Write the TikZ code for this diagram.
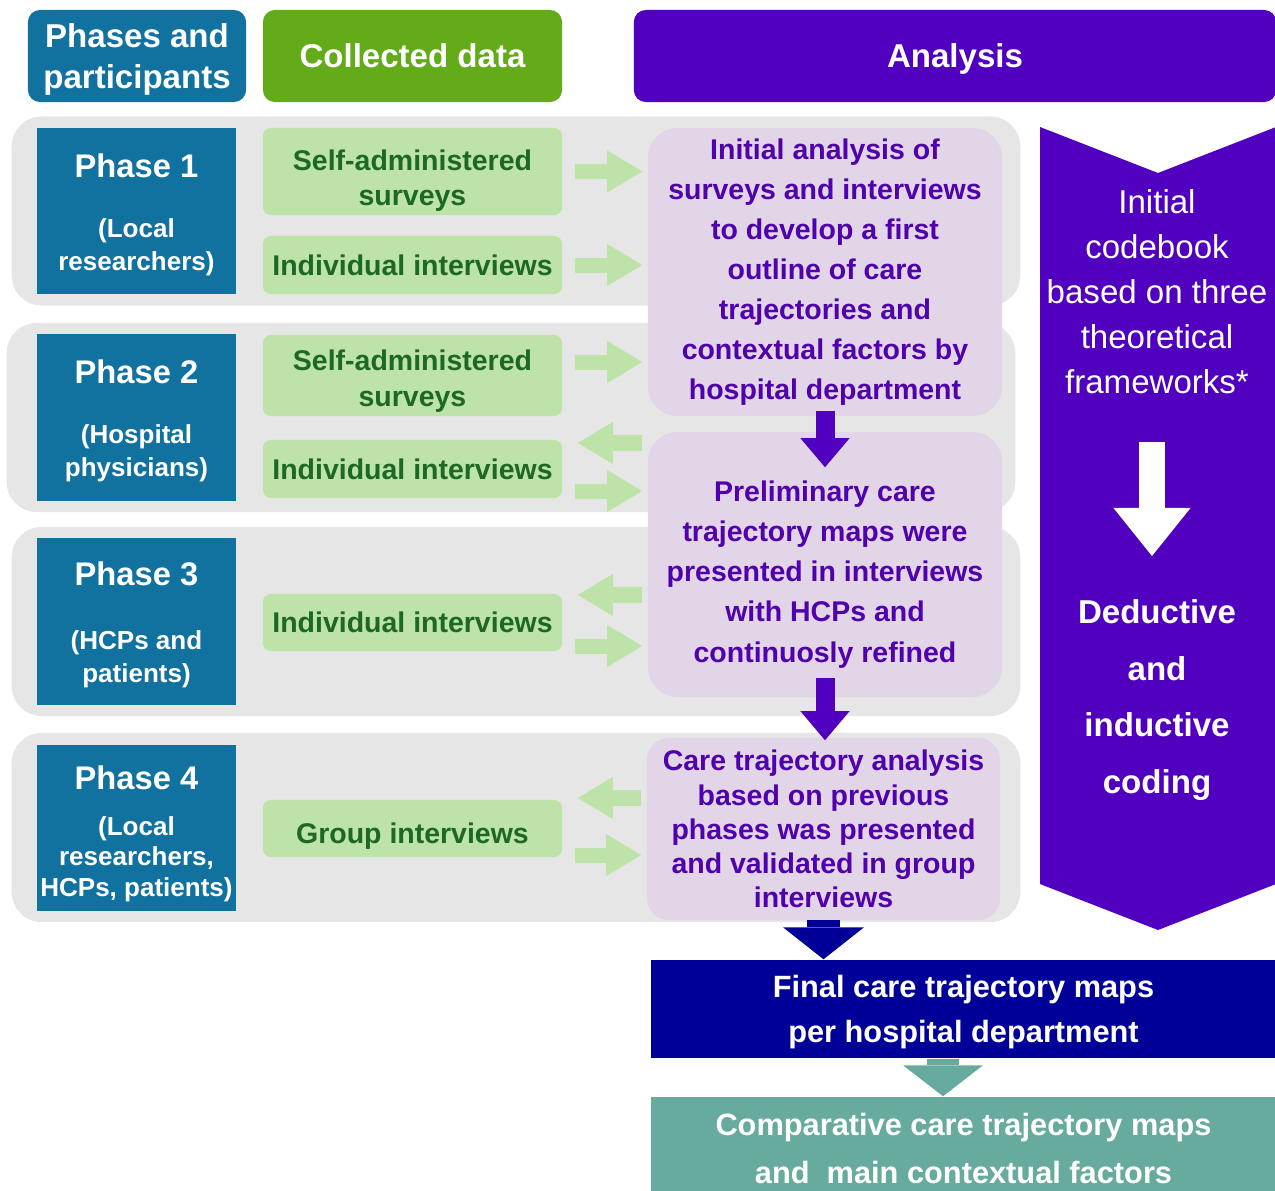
\documentclass[tikz,border=0pt]{standalone}
\usepackage{fontspec}
\setmainfont{Liberation Sans}
\usepackage{tikz}
\usetikzlibrary{arrows.meta}

\definecolor{phaseblue}{RGB}{18,114,159}
\definecolor{headgreen}{RGB}{99,171,25}
\definecolor{anapurple}{RGB}{80,0,190}
\definecolor{datagreen}{RGB}{189,227,168}
\definecolor{datatext}{RGB}{28,104,36}
\definecolor{anafill}{RGB}{225,213,231}
\definecolor{anatext}{RGB}{80,0,172}
\definecolor{bandgray}{RGB}{230,230,230}
\definecolor{navy}{RGB}{0,0,153}
\definecolor{tealbox}{RGB}{103,171,158}

\begin{document}
\begin{tikzpicture}[x=0.01cm, y=-0.01cm,
	every node/.style={inner sep=0pt, align=center},
	band/.style={rectangle, fill=bandgray, rounded corners=0.3cm, minimum width=10.08cm, minimum height=1.89cm},
	head/.style={rectangle, rounded corners=0.12cm, text=white, text depth=0pt, font=\bfseries\fontsize{9.4}{11.4}\selectfont, minimum height=0.92cm},
	phasebox/.style={rectangle, fill=phaseblue, minimum width=1.99cm, minimum height=1.66cm},
	phasetitle/.style={text=white, font=\bfseries\fontsize{9.3}{11}\selectfont},
	phasesub/.style={text=white, text depth=0pt, font=\bfseries\fontsize{7.4}{9.4}\selectfont},
	databox/.style={rectangle, fill=datagreen, rounded corners=0.08cm, minimum width=2.99cm, text=datatext, text depth=0pt, font=\bfseries\fontsize{8.1}{9.7}\selectfont},
	anabox/.style={rectangle, fill=anafill, rounded corners=0.3cm, minimum width=3.54cm, text=anatext, font=\bfseries\fontsize{8.1}{11.4}\selectfont},
	toana/.style={draw=datagreen, line width=0.15cm, -{Triangle[width=0.42cm,length=0.35cm,line width=0pt]}, shorten <=0.12cm, shorten >=0.05cm},
	fromana/.style={toana, shorten <=0.05cm, shorten >=0.15cm},
	parrow/.style={draw=anapurple, line width=0.19cm, -{Triangle[width=0.49cm,length=0.29cm,line width=0pt]}},
	narrow/.style={draw=navy, line width=0.32cm, -{Triangle[width=0.81cm,length=0.32cm,line width=0pt]}},
	tarrow/.style={draw=tealbox, line width=0.32cm, -{Triangle[width=0.80cm,length=0.31cm,line width=0pt]}},
	wharrow/.style={draw=white, line width=0.26cm, -{Triangle[width=0.77cm,length=0.48cm,line width=0pt]}}
]
	\useasboundingbox (0,0) rectangle (1275,1190);

	\node (hphase) at (137,56) [head, fill=phaseblue, minimum width=2.18cm] {Phases and\\participants};
	\node (hdata) at (412.5,56) [head, fill=headgreen, minimum width=2.99cm] {Collected data};
	\node (hana) at (955,56) [head, fill=anapurple, minimum width=6.42cm] {Analysis};

	\node (b1) at (516,211) [band] {};
	\node (b2) at (511,417.5) [band] {};
	\node (b3) at (516,621.5) [band] {};
	\node (b4) at (516,827.5) [band] {};

	\node (p1) at (136.5,211) [phasebox] {};
	\node (p1t) at (136.5,166) [phasetitle] {Phase 1};
	\node (p1s) at (136.5,244.5) [phasesub] {(Local\\researchers)};
	\node (p2) at (136.5,417.5) [phasebox] {};
	\node (p2t) at (136.5,372) [phasetitle] {Phase 2};
	\node (p2s) at (136.5,450.5) [phasesub] {(Hospital\\physicians)};
	\node (p3) at (136.5,621.5) [phasebox] {};
	\node (p3t) at (136.5,574) [phasetitle] {Phase 3};
	\node (p3s) at (136.5,656.5) [phasesub] {(HCPs and\\patients)};
	\node (p4) at (136.5,828) [phasebox] {};
	\node (p4t) at (136.5,778) [phasetitle] {Phase 4};
	\node (p4s) at (136.5,856.5) [phasesub, font=\bfseries\fontsize{7.4}{8.7}\selectfont] {(Local\\researchers,\\HCPs, patients)};

	\node (d1s) at (412.5,171.5) [databox, minimum height=0.87cm, text height=0.67cm] {Self-administered\\surveys};
	\node (d1i) at (412.5,265) [databox, minimum height=0.58cm] {Individual interviews};
	\node (d2s) at (412.5,375.5) [databox, minimum height=0.81cm, text height=0.62cm, font=\bfseries\fontsize{8.1}{10.3}\selectfont] {Self-administered\\surveys};
	\node (d2i) at (412.5,469) [databox, minimum height=0.58cm] {Individual interviews};
	\node (d3i) at (412.5,622.5) [databox, minimum height=0.57cm] {Individual interviews};
	\node (d4g) at (412.5,828.5) [databox, minimum height=0.57cm, text height=0.29cm] {Group interviews};

	\node (a1) at (825,272) [anabox, minimum height=2.88cm] {Initial analysis of\\surveys and interviews\\to develop a first\\outline of care\\trajectories and\\contextual factors by\\hospital department};
	\node (a2) at (825,564.5) [anabox, minimum height=2.65cm, text height=1.95cm, text depth=0pt] {Preliminary care\\trajectory maps were\\presented in interviews\\with HCPs and\\continuosly refined};
	\node (a3) at (823.5,829) [anabox, rounded corners=0.22cm, minimum width=3.53cm, minimum height=1.82cm, font=\bfseries\fontsize{8.1}{9.7}\selectfont] {Care trajectory analysis\\based on previous\\phases was presented\\and validated in group\\interviews};

	\fill[anapurple] (1040,127) -- (1158,173) -- (1276,127) -- (1276,884) -- (1158,930) -- (1040,884) -- cycle;
	\node (code) at (1157,292) [text=white, font=\fontsize{9.4}{12.8}\selectfont] {Initial\\codebook\\based on three\\theoretical\\frameworks*};
	\node (coding) at (1157,696.5) [text=white, text depth=0pt, font=\bfseries\fontsize{9.4}{16.2}\selectfont] {Deductive\\and\\inductive\\coding};
	\coordinate (cb1) at (1152,442);
	\coordinate (cb2) at (1152,556);
	\draw[wharrow] (cb1) -- (cb2);

	\node (fin) at (963.5,1009) [fill=navy, minimum width=6.25cm, minimum height=0.98cm, text=white, text depth=0pt, font=\bfseries\fontsize{8.75}{12.8}\selectfont] {Final care trajectory maps\\per hospital department};
	\node (comp) at (963.5,1148.5) [fill=tealbox, minimum width=6.25cm, minimum height=1.03cm, text=white, font=\bfseries\fontsize{8.75}{13.9}\selectfont] {Comparative care trajectory maps\\and\ \ main contextual factors};

	\draw[toana] (d1s.east) -- (d1s.east -| a1.west);
	\draw[toana] (d1i.east) -- (d1i.east -| a1.west);
	\draw[toana] ([yshift=0.135cm]d2s.east) -- ([yshift=0.135cm]d2s.east -| a1.west);
	\draw[fromana] ([yshift=0.26cm]d2i.east -| a2.west) -- ([yshift=0.26cm]d2i.east);
	\draw[toana] ([yshift=-0.22cm]d2i.east) -- ([yshift=-0.22cm]d2i.east -| a2.west);
	\draw[fromana] ([yshift=0.275cm]d3i.east -| a2.west) -- ([yshift=0.275cm]d3i.east);
	\draw[toana] ([yshift=-0.235cm]d3i.east) -- ([yshift=-0.235cm]d3i.east -| a2.west);
	\draw[fromana] ([yshift=0.305cm]d4g.east -| a3.west) -- ([yshift=0.305cm]d4g.east);
	\draw[toana] ([yshift=-0.265cm]d4g.east) -- ([yshift=-0.265cm]d4g.east -| a3.west);

	\draw[parrow, shorten <=-0.06cm, shorten >=-0.36cm] (a1.south) -- (a2.north);
	\draw[parrow, shorten <=-0.2cm, shorten >=-0.03cm] (a2.south) -- (a2.south |- a3.north);
	\draw[narrow, shorten <=-0.01cm] (a3.south) -- (a3.south |- fin.north);
	\draw[tarrow] ([xshift=-0.205cm]fin.south) -- ([xshift=-0.205cm]comp.north);
\end{tikzpicture}
\end{document}
